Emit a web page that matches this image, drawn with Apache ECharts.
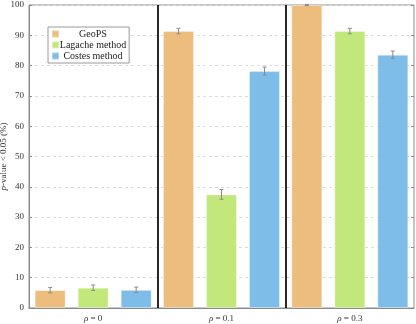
<!DOCTYPE html>
<html>
<head>
<meta charset="utf-8">
<style>
html, body {
  margin: 0;
  padding: 0;
  background-color: #FFF;
}
#chart {
  width: 416px;
  height: 324px;
}
</style>
<script src="https://cdn.jsdelivr.net/npm/echarts@6/dist/echarts.min.js"></script>
</head>
<body>
<div id="chart"></div>
<script>
const categories = ['0', '0.1', '0.3']
const seriesNames = ['GeoPS', 'Lagache method', 'Costes method']
const geops = [5.9, 91.4, 100]
const lagache = [6.7, 37.5, 91.4]
const costes = [6.0, 78.2, 83.6]
const geopsErr = [0.9, 0.9, 0.2]
const lagacheErr = [0.9, 1.6, 0.9]
const costesErr = [0.9, 1.3, 1.2]
const yTicks = [0, 10, 20, 30, 40, 50, 60, 70, 80, 90, 100]

const colors = ['#ecbd7c', '#c2e87b', '#7fbde9']
const barWidth = 31
const barGapPx = 12
const font = 'Liberation Serif'

const values = [geops, lagache, costes]
const errors = [geopsErr, lagacheErr, costesErr]

const chart = echarts.init(document.getElementById('chart'))

function errorSeries (idx) {
  const offset = (idx - 1) * (barWidth + barGapPx)
  return {
    type: 'custom',
    xAxisIndex: 0,
    yAxisIndex: 0,
    silent: true,
    z: 5,
    data: categories.map((c, i) => [i, values[idx][i], errors[idx][i]]),
    renderItem: function (params, api) {
      const x = api.coord([api.value(0), 0])[0] + offset
      const hi = api.coord([api.value(0), api.value(1) + api.value(2)])[1]
      const lo = api.coord([api.value(0), api.value(1) - api.value(2)])[1]
      const style = { stroke: '#8a8a8a', lineWidth: 1 }
      return {
        type: 'group',
        children: [
          { type: 'line', shape: { x1: x, y1: hi, x2: x, y2: lo }, style },
          { type: 'line', shape: { x1: x - 2, y1: hi, x2: x + 2, y2: hi }, style },
          { type: 'line', shape: { x1: x - 2, y1: lo, x2: x + 2, y2: lo }, style }
        ]
      }
    }
  }
}

const option = {
  animation: false,
  textStyle: { fontFamily: font },
  grid: {
    left: 29,
    right: 2,
    top: 5,
    bottom: 16,
    outerBoundsMode: 'none',
    containLabel: false,
    show: true,
    borderColor: '#8c8c8c',
    borderWidth: 1
  },
  legend: {
    orient: 'vertical',
    left: 48,
    top: 27,
    padding: [2, 3, 2, 3],
    itemGap: 1,
    itemWidth: 7,
    itemHeight: 7,
    icon: 'rect',
    borderColor: '#9a9a9a',
    borderWidth: 1,
    backgroundColor: '#fff',
    data: seriesNames,
    formatter: name => '{c|' + name + '}',
    textStyle: {
      fontFamily: font,
      fontSize: 10,
      color: '#222',
      rich: {
        c: { width: 58, align: 'center', fontFamily: font, fontSize: 10, color: '#222' }
      }
    }
  },
  xAxis: [{
    type: 'category',
    data: categories,
    axisLine: { lineStyle: { color: '#8c8c8c' } },
    axisTick: { show: false },
    axisLabel: {
      margin: 6,
      fontSize: 9,
      color: '#333',
      formatter: v => '{i|ρ} = ' + v,
      rich: { i: { fontStyle: 'italic', fontFamily: font, fontSize: 9, color: '#333' } }
    },
    splitLine: {
      show: true,
      interval: 0,
      lineStyle: { color: ['rgba(0,0,0,0)', '#111', '#111', 'rgba(0,0,0,0)'], width: 1.8 }
    }
  }],
  yAxis: [{
    type: 'value',
    min: 0,
    max: 100,
    interval: 10,
    name: '{i|p}-value < 0.05 (%)',
    nameLocation: 'middle',
    nameGap: 21,
    nameRotate: 90,
    nameMoveOverlap: false,
    nameTextStyle: {
      fontFamily: font,
      fontSize: 9,
      color: '#333',
      rich: { i: { fontStyle: 'italic', fontFamily: font, fontSize: 9, color: '#333' } }
    },
    axisLine: { show: true, lineStyle: { color: '#8c8c8c' } },
    axisTick: { show: true, inside: true, length: 3, lineStyle: { color: '#8c8c8c' } },
    axisLabel: {
      margin: 5,
      fontSize: 9,
      color: '#333',
      customValues: yTicks
    },
    splitLine: { show: true, lineStyle: { color: '#dcdcdc', type: [3, 3] } }
  }, {
    type: 'value',
    position: 'right',
    min: 0,
    max: 100,
    interval: 10,
    axisLine: { show: false },
    axisTick: { show: true, inside: true, length: 3, lineStyle: { color: '#8c8c8c' } },
    axisLabel: { show: false },
    splitLine: { show: false }
  }],
  series: seriesNames.map((name, idx) => ({
    name,
    type: 'bar',
    barWidth,
    barGap: (barGapPx / barWidth * 100).toFixed(1) + '%',
    data: values[idx],
    itemStyle: {
      color: colors[idx],
      borderColor: 'rgba(255,255,255,0.35)',
      borderWidth: 1
    }
  })).concat([0, 1, 2].map(errorSeries))
}

chart.setOption(option)
</script>
</body>
</html>
